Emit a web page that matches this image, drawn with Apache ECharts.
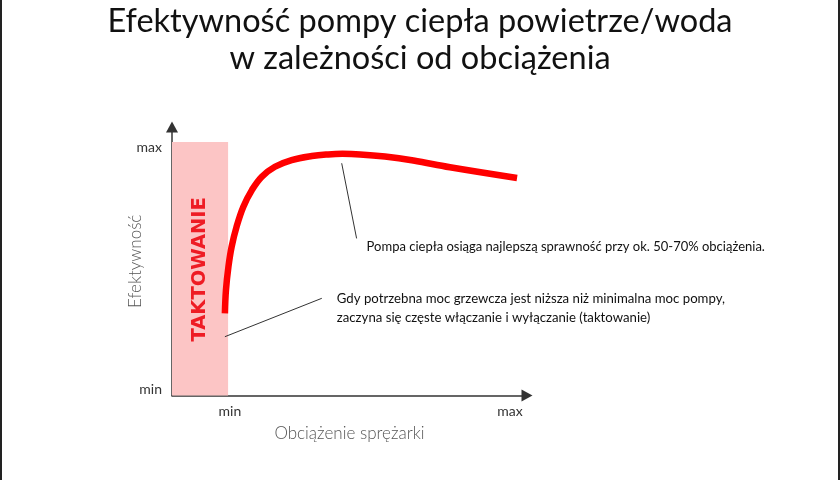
<!DOCTYPE html>
<html>
<head>
<meta charset="utf-8">
<script src="https://cdn.jsdelivr.net/npm/echarts@6/dist/echarts.min.js"></script>
<style>
html,body{margin:0;padding:0;background:#fff;}
#c{width:840px;height:480px;}
</style>
</head>
<body>
<div id="c"></div>
<script>
// ---- data ----
const titleLines = ['Efektywność pompy ciepła powietrze/woda', 'w zależności od obciążenia'];
const xAxisName = 'Obciążenie sprężarki';
const yAxisName = 'Efektywność';
const xTickLabels = ['min', 'max'];
const xTickValues = [16.3, 95.2];
const yTickLabels = ['min', 'max'];
const yTickValues = [2.4, 92.2];
// efficiency curve (load %, efficiency %)
const curveX = [14.9, 15.2, 15.9, 16.8, 18.2, 20.1, 22.5, 25.3, 29.0, 33.7, 39.4, 44.0, 48.0, 53.0, 60.0, 68.0, 78.3, 97.2];
const curveY = [30.6, 39.3, 48.0, 55.4, 62.9, 70.3, 76.5, 81.5, 85.2, 87.7, 89.2, 89.8, 90.0, 89.8, 89.0, 87.5, 85.0, 81.0];
// cycling zone
const cyclingZone = {label: 'TAKTOWANIE', x: [0, 15.8], y: [0, 94.4]};
// annotation pointers [x, y] from curve/zone to text
const note1Pointer = [[47.8, 86.5], [52.0, 58.5]];
const note2Pointer = [[42.2, 36.2], [14.9, 21.9]];
const note1Text = 'Pompa ciepła osiąga najlepszą sprawność przy ok. 50-70% obciążenia.';
const note2Text = ['Gdy potrzebna moc grzewcza jest niższa niż minimalna moc pompy,', 'zaczyna się częste włączanie i wyłączanie (taktowanie)'];

const FONT = 'Lato';
const chart = echarts.init(document.getElementById('c'), null, {renderer: 'canvas'});
const curveData = curveX.map((x, i) => [x, curveY[i]]);

chart.setOption({
  animation: false,
  backgroundColor: '#fff',
  title: {
    text: titleLines.join('\n'),
    left: 'center', top: 0, padding: [3, 10, 0, 0],
    textStyle: {fontFamily: FONT, fontSize: 32.5, fontWeight: 'normal', color: '#111', lineHeight: 37}
  },
  grid: {left: 172, top: 127, width: 355, height: 268.5},
  xAxis: {
    type: 'value', min: 0, max: 100,
    name: xAxisName, nameLocation: 'middle', nameGap: 30,
    nameTextStyle: {fontFamily: FONT, fontSize: 17, color: '#555', fontWeight: 300},
    axisLine: {lineStyle: {color: '#333', width: 1.5}, symbol: ['none', 'triangle'], symbolSize: [12, 11], symbolOffset: [0, 0]},
    axisTick: {show: false},
    splitLine: {show: false},
    axisLabel: {
      customValues: xTickValues,
      formatter: v => xTickLabels[xTickValues.indexOf(v)] || '',
      fontFamily: FONT, fontSize: 14, color: '#333', margin: 9
    }
  },
  yAxis: {
    type: 'value', min: 0, max: 100,
    name: yAxisName, nameLocation: 'middle', nameGap: 28, nameRotate: 90, nameMoveOverlap: false,
    nameTextStyle: {fontFamily: FONT, fontSize: 17, color: '#555', fontWeight: 300},
    axisLine: {lineStyle: {color: '#333', width: 1.5}, symbol: ['none', 'triangle'], symbolSize: [12, 11], symbolOffset: [0, 0]},
    axisTick: {show: false},
    splitLine: {show: false},
    axisLabel: {
      customValues: yTickValues,
      formatter: v => yTickLabels[yTickValues.indexOf(v)] || '',
      fontFamily: FONT, fontSize: 14, color: '#333', margin: 10
    }
  },
  series: [
    {
      type: 'line', data: curveData, smooth: 0.4, showSymbol: false, silent: true,
      lineStyle: {color: '#ff0000', width: 6.5, cap: 'butt'},
      z: 3,
      markArea: {
        silent: true,
        itemStyle: {color: '#fcc5c5'},
        data: [[{xAxis: cyclingZone.x[0], yAxis: cyclingZone.y[0]}, {xAxis: cyclingZone.x[1], yAxis: cyclingZone.y[1]}]]
      }
    },
    {
      type: 'line', data: note1Pointer, showSymbol: false, silent: true,
      lineStyle: {color: '#333', width: 1}, z: 4
    },
    {
      type: 'line', data: note2Pointer, showSymbol: false, silent: true,
      lineStyle: {color: '#333', width: 1}, z: 4
    }
  ]
});

function place() {
  const zc = chart.convertToPixel({gridIndex: 0}, [(cyclingZone.x[0] + cyclingZone.x[1]) / 2, 47]);
  const p1 = chart.convertToPixel({gridIndex: 0}, note1Pointer[1]);
  const p2 = chart.convertToPixel({gridIndex: 0}, note2Pointer[0]);
  chart.setOption({
    graphic: [
      {type: 'rect', shape: {x: 0, y: 0, width: 2, height: 480}, style: {fill: '#222'}, silent: true},
      {type: 'rect', shape: {x: 838, y: 0, width: 2, height: 480}, style: {fill: '#222'}, silent: true},
      {type: 'text', x: zc[0], y: zc[1], rotation: Math.PI / 2, z: 10,
        style: {text: cyclingZone.label, fontFamily: 'DejaVu Sans', fontWeight: 'bold', fontSize: 19.5,
          fill: '#ee1c24', align: 'center', verticalAlign: 'middle'}},
      {type: 'text', x: p1[0] + 10, y: p1[1] + 8, z: 10,
        style: {text: note1Text, fontFamily: FONT, fontSize: 13, fill: '#111', align: 'left', verticalAlign: 'middle'}},
      {type: 'text', x: p2[0] + 15, y: p2[1] - 9, z: 10,
        style: {text: note2Text.join('\n'), fontFamily: FONT, fontSize: 13.2, lineHeight: 19, fill: '#111', align: 'left', verticalAlign: 'top'}}
    ]
  });
}
place();
</script>
</body>
</html>
